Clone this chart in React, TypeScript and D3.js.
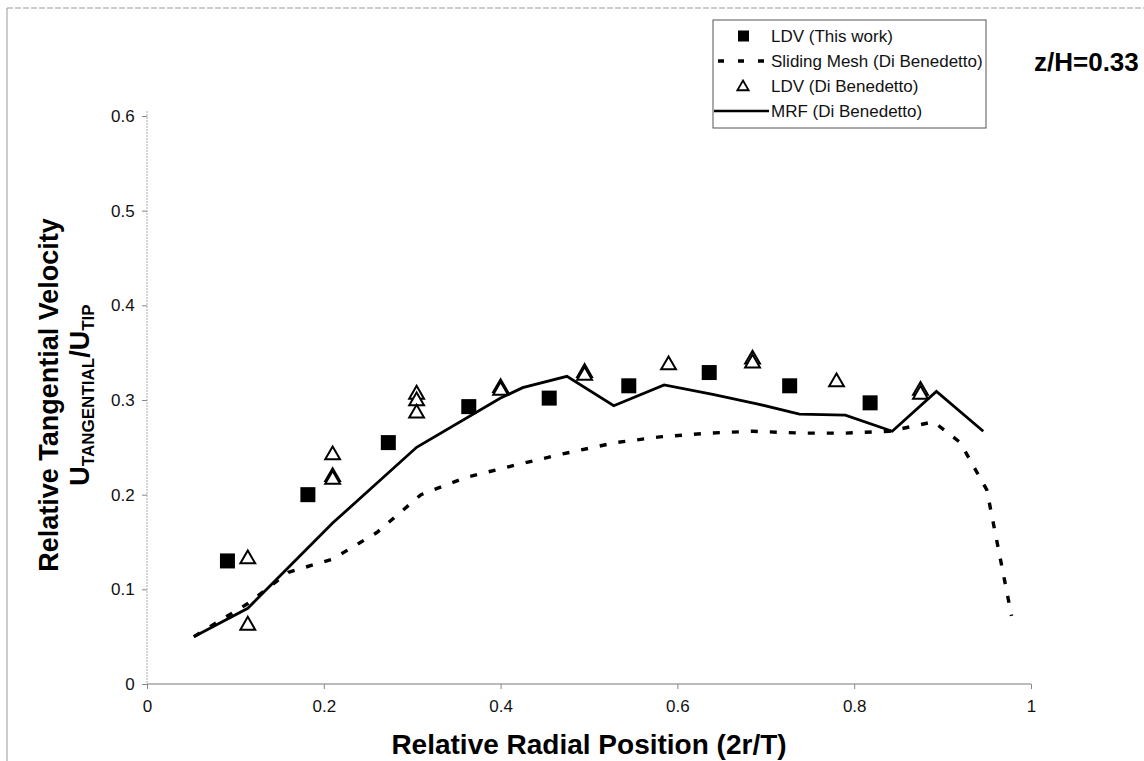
import React, { useEffect, useRef } from 'react';
import * as d3 from 'd3';

// LDV (This work)
const ldvX = [0.091, 0.182, 0.273, 0.364, 0.455, 0.545, 0.636, 0.727, 0.818];
const ldvY = [0.13, 0.2, 0.255, 0.293, 0.302, 0.315, 0.329, 0.315, 0.297];

// LDV (Di Benedetto)
const dbX = [0.114, 0.114, 0.21, 0.21, 0.21, 0.305, 0.305, 0.305, 0.4, 0.4, 0.495, 0.495, 0.59, 0.685, 0.685, 0.78, 0.875, 0.875];
const dbY = [0.133, 0.063, 0.243, 0.22, 0.217, 0.307, 0.3, 0.287, 0.314, 0.311, 0.33, 0.327, 0.338, 0.344, 0.34, 0.32, 0.311, 0.307];

// MRF (Di Benedetto)
const mrfX = [0.053, 0.114, 0.21, 0.305, 0.4, 0.425, 0.475, 0.528, 0.585, 0.64, 0.69, 0.738, 0.79, 0.843, 0.893, 0.946];
const mrfY = [0.05, 0.08, 0.17, 0.25, 0.302, 0.313, 0.325, 0.294, 0.316, 0.306, 0.296, 0.285, 0.284, 0.267, 0.309, 0.267];

// Sliding Mesh (Di Benedetto)
const smX = [0.053, 0.114, 0.16, 0.21, 0.26, 0.31, 0.36, 0.42, 0.47, 0.53, 0.58, 0.635, 0.685, 0.74, 0.79, 0.84, 0.89, 0.92, 0.95, 0.978];
const smY = [0.05, 0.085, 0.118, 0.132, 0.16, 0.2, 0.218, 0.232, 0.243, 0.255, 0.261, 0.265, 0.267, 0.265, 0.265, 0.267, 0.277, 0.255, 0.205, 0.072];

const xTicks = [0, 0.2, 0.4, 0.6, 0.8, 1];
const yTicks = [0, 0.1, 0.2, 0.3, 0.4, 0.5, 0.6];

const legendLabels = [
  'LDV (This work)',
  'Sliding Mesh (Di Benedetto)',
  'LDV (Di Benedetto)',
  'MRF (Di Benedetto)'
];

const W = 1144;
const H = 761;
const font = 'Liberation Sans, Arial, sans-serif';

export default function App() {
  const ref = useRef<SVGSVGElement>(null);

  useEffect(() => {
    const svg = d3.select(ref.current);
    svg.selectAll('*').remove();

    const x = d3.scaleLinear().domain([0, 1]).range([147, 1031]);
    const y = d3.scaleLinear().domain([0, 0.6]).range([684, 116]);

    // scanned page frame
    svg.append('line').attr('x1', 7).attr('x2', W).attr('y1', 8).attr('y2', 8)
      .attr('stroke', '#999').attr('stroke-width', 1).attr('stroke-dasharray', '6 2');
    svg.append('line').attr('x1', 7).attr('x2', 7).attr('y1', 8).attr('y2', H)
      .attr('stroke', '#999').attr('stroke-width', 1);

    // axes
    const gx = svg.append('g').attr('transform', 'translate(0,' + y(0) + ')');
    gx.call(d3.axisBottom(x).tickValues(xTicks).tickSize(5).tickFormat(d3.format('')) as any);
    const gy = svg.append('g').attr('transform', 'translate(' + x(0) + ',0)');
    gy.call(d3.axisLeft(y).tickValues(yTicks).tickSize(5).tickFormat(d3.format('')) as any);
    gy.select('.domain').attr('d', 'M-0,' + (y(0.6) - 5) + 'V' + y(0)).attr('stroke', '#aaa').attr('stroke-dasharray', '2 1');
    gx.select('.domain').attr('d', 'M' + x(0) + ',0H' + x(1)).attr('stroke', '#777');
    svg.selectAll('.tick line').attr('stroke', '#888');
    svg.selectAll('.tick text')
      .attr('font-family', font).attr('font-size', 17).attr('fill', '#111');
    gx.selectAll('.tick text').attr('dy', '1.2em');
    gy.selectAll('.tick text').attr('dx', '-0.25em');

    // lines
    const smData = smX.map((d, i) => [d, smY[i]] as [number, number]);
    const mrfData = mrfX.map((d, i) => [d, mrfY[i]] as [number, number]);
    const line = d3.line<[number, number]>().x(d => x(d[0])).y(d => y(d[1]));

    svg.append('path').attr('d', line(smData)).attr('fill', 'none').attr('stroke', '#000')
      .attr('stroke-width', 3.4).attr('stroke-dasharray', '7 12');
    svg.append('path').attr('d', line(mrfData)).attr('fill', 'none').attr('stroke', '#000')
      .attr('stroke-width', 2.8).attr('stroke-linejoin', 'miter');

    // triangles
    const tri = d3.symbol().type(d3.symbolTriangle).size(95);
    svg.selectAll('.tri').data(dbX).enter().append('path')
      .attr('class', 'tri')
      .attr('d', tri)
      .attr('transform', (d, i) => 'translate(' + x(d) + ',' + (y(dbY[i]) + 1) + ')')
      .attr('fill', '#fff').attr('stroke', '#000').attr('stroke-width', 2);

    // squares
    svg.selectAll('.sq').data(ldvX).enter().append('rect')
      .attr('class', 'sq')
      .attr('x', d => x(d) - 7.5)
      .attr('y', (d, i) => y(ldvY[i]) - 7.5)
      .attr('width', 15).attr('height', 15)
      .attr('fill', '#000');

    // legend
    const lg = svg.append('g');
    lg.append('rect').attr('x', 713).attr('y', 20).attr('width', 273).attr('height', 108)
      .attr('fill', '#fff').attr('stroke', '#555').attr('stroke-width', 1);
    const rowY = (i: number) => 36 + i * 25;
    lg.append('rect').attr('x', 738).attr('y', rowY(0) - 5.5).attr('width', 11).attr('height', 11).attr('fill', '#000');
    lg.append('line').attr('x1', 718).attr('x2', 770).attr('y1', rowY(1)).attr('y2', rowY(1))
      .attr('stroke', '#000').attr('stroke-width', 3.4).attr('stroke-dasharray', '6 14');
    lg.append('path').attr('d', d3.symbol().type(d3.symbolTriangle).size(55))
      .attr('transform', 'translate(743,' + (rowY(2) + 1) + ')')
      .attr('fill', '#fff').attr('stroke', '#000').attr('stroke-width', 1.8);
    lg.append('line').attr('x1', 714).attr('x2', 769).attr('y1', rowY(3)).attr('y2', rowY(3))
      .attr('stroke', '#000').attr('stroke-width', 2.6);
    lg.selectAll('.lt').data(legendLabels).enter().append('text')
      .attr('class', 'lt')
      .attr('x', 771).attr('y', (d, i) => rowY(i) + 6)
      .attr('font-family', font).attr('font-size', 17).attr('fill', '#111')
      .text(d => d);

    svg.append('text').attr('x', 1034).attr('y', 71)
      .attr('font-family', font).attr('font-size', 26).attr('font-weight', 'bold')
      .text('z/H=0.33');

    // axis titles
    svg.append('text').attr('x', (x(0) + x(1)) / 2).attr('y', 754)
      .attr('text-anchor', 'middle')
      .attr('font-family', font).attr('font-size', 28).attr('font-weight', 'bold')
      .text('Relative Radial Position (2r/T)');

    const yt = svg.append('g').attr('transform', 'translate(58,' + 395 + ') rotate(-90)');
    yt.append('text').attr('text-anchor', 'middle')
      .attr('font-family', font).attr('font-size', 27).attr('font-weight', 'bold')
      .text('Relative Tangential Velocity');
    const t2 = yt.append('text').attr('y', 31).attr('text-anchor', 'middle')
      .attr('font-family', font).attr('font-size', 27).attr('font-weight', 'bold');
    t2.append('tspan').text('U');
    t2.append('tspan').attr('font-size', 17).attr('dy', 5).text('TANGENTIAL');
    t2.append('tspan').attr('dy', -5).text('/U');
    t2.append('tspan').attr('font-size', 17).attr('dy', 5).text('TIP');
  }, []);

  return (
    <svg
      ref={ref}
      width={W}
      height={H}
      style={{ position: 'absolute', left: 0, top: 0, background: '#fff' }}
    />
  );
}
